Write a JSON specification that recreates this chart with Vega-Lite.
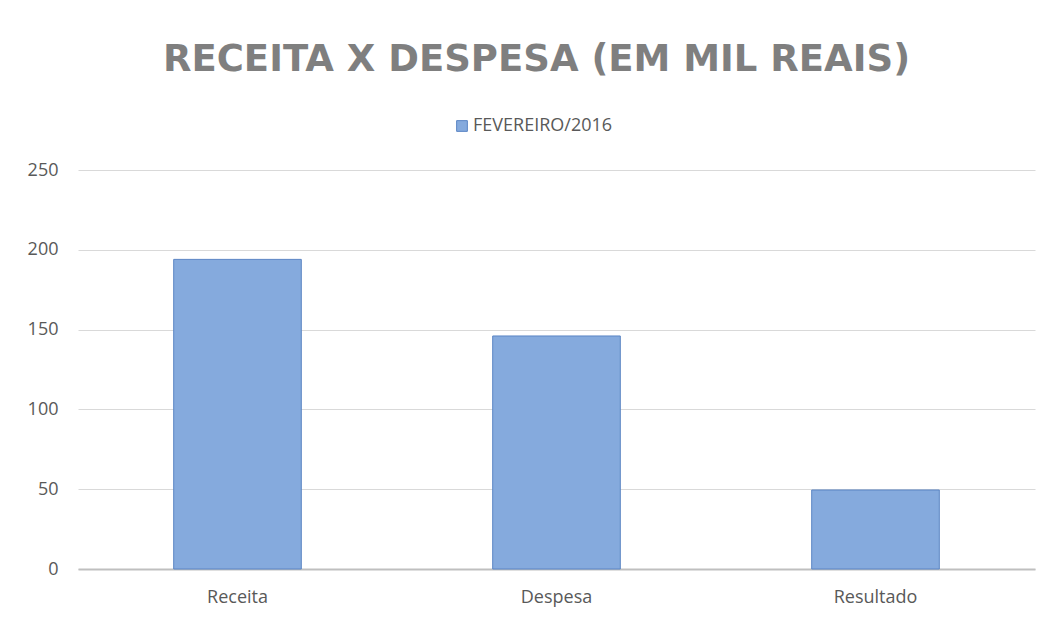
{
  "$schema": "https://vega.github.io/schema/vega-lite/v6.json",
  "autosize": "none",
  "width": 957,
  "height": 399,
  "padding": {"left": 78, "top": 170, "right": 11, "bottom": 48},
  "background": "white",
  "title": {
    "text": "RECEITA X DESPESA (EM MIL REAIS)",
    "anchor": "middle",
    "font": "DejaVu Sans",
    "fontSize": 37,
    "fontWeight": "bold",
    "color": "#7f7f7f",
    "offset": 38,
    "dx": -20
  },
  "data": {
    "values": [
      {"categoria": "Receita", "valor": 194, "serie": "FEVEREIRO/2016"},
      {"categoria": "Despesa", "valor": 146, "serie": "FEVEREIRO/2016"},
      {"categoria": "Resultado", "valor": 49.5, "serie": "FEVEREIRO/2016"}
    ]
  },
  "mark": {"type": "bar", "stroke": "#5a85c4", "strokeWidth": 1},
  "encoding": {
    "x": {
      "field": "categoria",
      "type": "nominal",
      "sort": null,
      "scale": {"paddingInner": 0.6, "paddingOuter": 0.3},
      "axis": {
        "title": null,
        "labelAngle": 0,
        "labelFont": "Open Sans",
        "labelFontSize": 18,
        "labelColor": "#595959",
        "labelPadding": 19,
        "ticks": false,
        "domainColor": "#bfbfbf",
        "domainWidth": 2
      }
    },
    "y": {
      "field": "valor",
      "type": "quantitative",
      "scale": {"domain": [0, 250]},
      "axis": {
        "title": null,
        "values": [0, 50, 100, 150, 200, 250],
        "labelFont": "Open Sans",
        "labelFontSize": 18,
        "labelColor": "#595959",
        "labelPadding": 20,
        "ticks": false,
        "domain": false,
        "gridColor": "#d9d9d9",
        "gridWidth": 1
      }
    },
    "color": {
      "field": "serie",
      "type": "nominal",
      "scale": {"range": ["#85aadd"]},
      "legend": {
        "title": null,
        "orient": "none",
        "legendX": 375,
        "legendY": -53,
        "padding": 0,
        "direction": "horizontal",
        "labelFont": "Open Sans",
        "labelFontSize": 18,
        "labelColor": "#595959",
        "symbolType": "square",
        "symbolSize": 115,
        "symbolStrokeColor": "#5a85c4",
        "symbolStrokeWidth": 1,
        "labelOffset": 2
      }
    }
  },
  "config": {
    "view": {"stroke": null}
  }
}
